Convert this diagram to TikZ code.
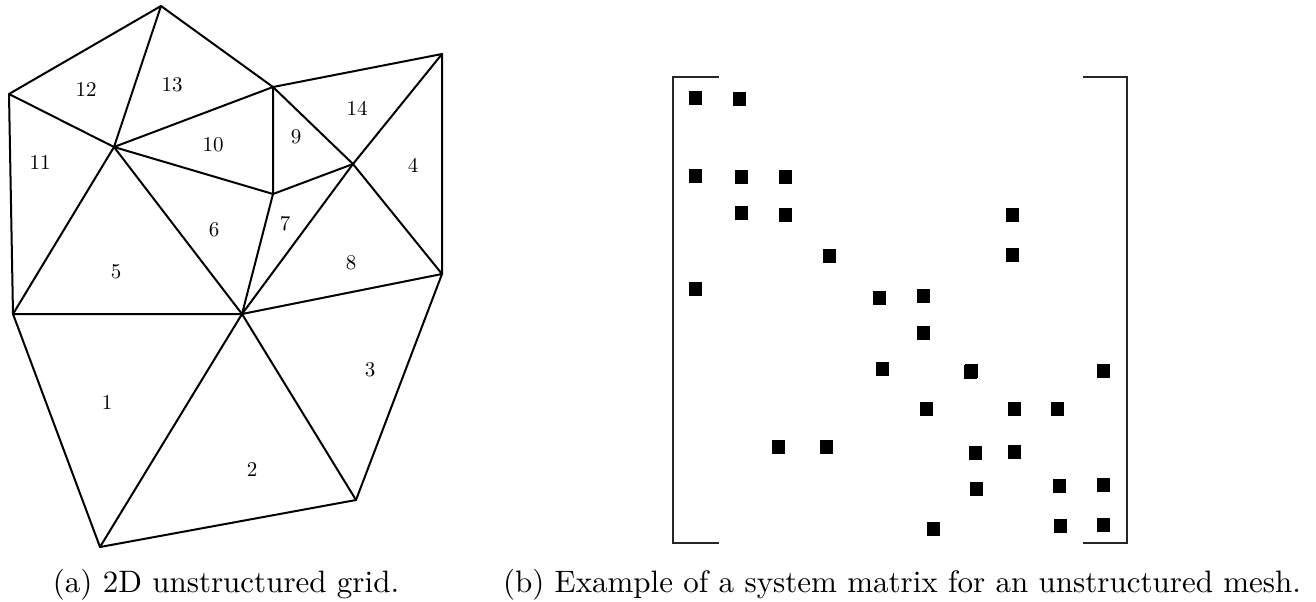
\documentclass[tikz,border=0pt]{standalone}
\usetikzlibrary{positioning}
\tikzset{
  edge/.style={line width=1pt,line cap=round,line join=round},
  elem/.style={inner sep=0pt,font=\fontsize{10.5}{12}\selectfont},
  entry/.style={fill=black,minimum width=6.5pt,minimum height=7.2pt,inner sep=0pt},
  brack/.style={line width=0.6pt,draw=black!85},
  capt/.style={inner sep=0pt,scale=1.55},
}
\begin{document}
\begin{tikzpicture}[x=0.5pt,y=-0.5pt]
  \useasboundingbox (0,0) rectangle (1316,601);

  % mesh vertices
  \foreach \n/\p in {a/{161,6},b/{273,87},c/{442,54},d/{9,94},e/{114,147},f/{273,194},
                     g/{353,164},h/{442,274},i/{13,314},j/{242,314},k/{356,500},l/{100,547}}{
    \coordinate (\n) at (\p);
  }
  % outer and inner edges
  \draw[edge] (d) -- (a) -- (b) -- (c) -- (h) -- (k) -- (l) -- (i) -- (d);
  \draw[edge] (d) -- (e) -- (a);
  \draw[edge] (e) -- (b) -- (f) -- (e);
  \draw[edge] (b) -- (g) -- (c);
  \draw[edge] (f) -- (g) -- (h) -- (j);
  \draw[edge] (g) -- (j) -- (f);
  \draw[edge] (e) -- (j) -- (i) -- (e);
  \draw[edge] (l) -- (j) -- (k);

  % element numbers
  \foreach \t/\p in {1/{107,402},2/{252,469},3/{370,370},4/{413,165},5/{116,272},6/{214,230},
                     7/{285,224},8/{351,263},9/{296,137},10/{213,145},11/{40,162},12/{86,89},
                     13/{172,85},14/{357,108}}{
    \node[elem] (el\t) at (\p) {\t};
  }

  % left and right bracket
  \draw[brack] (719,77) -- (673,77) -- (673,543) -- (719,543);
  \draw[brack] (1083,77) -- (1127,77) -- (1127,543) -- (1083,543);

  % nonzero entries
  \foreach \p [count=\m] in {{695,98},{739,99},{695,176},{741,177},{785,177},{741,213},{785,215},
    {1012,215},{829,256},{1012,255},{695,289},{879,298},{923,296},{923,333},{882,369},{970,372},
    {971,371},{1103,371},{926,409},{1014,409},{1057,409},{778,447},{826,447},{975,453},{1014,452},
    {976,489},{1059,486},{1103,485},{933,529},{1060,526},{1103,525}}{
    \node[entry] (m\m) at (\p) {};
  }

  % captions
  \node[capt,anchor=base] (capa) at (226,592) {(a) 2D unstructured grid.};
  \node[capt,anchor=base] (capb) at (902,592) {(b) Example of a system matrix for an unstructured mesh.};
\end{tikzpicture}
\end{document}
